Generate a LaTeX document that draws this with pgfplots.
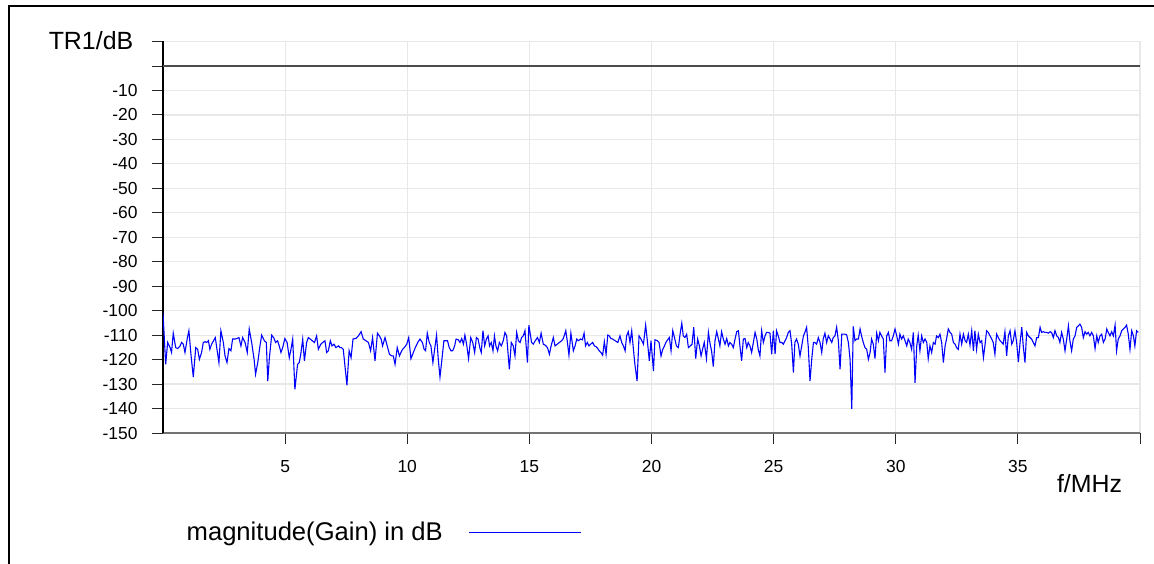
\documentclass[border=0pt]{standalone}
\usepackage{pgfplots}
\pgfplotsset{compat=1.18}
\usepackage{pgfplotstable}
\usepackage{fontspec}
\setmainfont{Liberation Sans}
\pgfplotstableread{
f g
0.00 -101
0.11 -121.9
0.19 -113
0.29 -115.1
0.35 -117.1
0.42 -109.2
0.52 -115.1
0.60 -115.5
0.70 -114.4
0.76 -113
0.83 -113.7
0.90 -117.1
1.00 -111
1.06 -108.2
1.15 -118.5
1.24 -127.1
1.34 -115.1
1.42 -115.8
1.49 -119.9
1.58 -117.1
1.65 -113
1.72 -112.7
1.79 -113
1.86 -112.3
1.92 -115.8
1.99 -113.7
2.07 -112.3
2.14 -111
2.21 -115.8
2.29 -121.2
2.37 -108.2
2.47 -113
2.54 -118.5
2.62 -121.2
2.70 -115.5
2.78 -116.4
2.85 -111.6
2.95 -111.6
3.02 -111.4
3.11 -111
3.19 -114.4
3.26 -111
3.36 -113
3.45 -117.1
3.53 -107.5
3.63 -113
3.73 -119.9
3.79 -126
3.88 -121.2
3.97 -114.4
4.04 -110
4.15 -112.3
4.23 -113
4.29 -128.8
4.35 -119.9
4.45 -110
4.53 -111
4.61 -113
4.69 -112.3
4.76 -114.4
4.83 -117.1
4.90 -115.1
4.99 -111.4
5.08 -113
5.17 -119.2
5.24 -115.8
5.31 -111.6
5.40 -132.2
5.51 -121.9
5.58 -121.2
5.65 -117.1
5.72 -111.6
5.79 -120.5
5.88 -113
5.95 -111
6.03 -111.6
6.11 -112.3
6.20 -113
6.29 -110.3
6.36 -115.8
6.46 -113.7
6.54 -113
6.63 -112.3
6.70 -117.1
6.77 -116.4
6.85 -112.3
6.92 -114.4
7.00 -113.7
7.08 -115.1
7.18 -114.4
7.25 -115.1
7.31 -115.1
7.38 -115.8
7.45 -122.6
7.53 -130.5
7.62 -116.4
7.70 -119.2
7.78 -111.6
7.86 -111.4
7.90 -111.4
8.00 -110.3
8.11 -108.6
8.20 -111.6
8.31 -112.3
8.41 -113
8.50 -116.4
8.58 -111
8.68 -120.5
8.78 -109.2
8.86 -110.3
8.93 -111.6
8.99 -114.4
9.09 -111
9.18 -114.4
9.27 -117.8
9.36 -118.5
9.43 -118.5
9.50 -121.9
9.59 -115.1
9.68 -118.5
9.74 -117.1
9.81 -115.8
9.88 -115.1
9.98 -113.7
10.06 -111
10.15 -119.6
10.25 -117.1
10.33 -115.1
10.43 -113
10.52 -111.6
10.62 -113
10.69 -115.8
10.75 -116.4
10.82 -109.2
10.90 -113
10.97 -114.4
11.05 -121.2
11.14 -114.4
11.20 -110
11.27 -119.9
11.34 -127.1
11.42 -119.9
11.50 -112.3
11.59 -112.3
11.65 -112.3
11.72 -115.1
11.79 -116.4
11.86 -116.4
11.94 -114.4
12.00 -111.6
12.09 -111.9
12.16 -113
12.23 -111.4
12.30 -113.7
12.36 -110
12.43 -113.7
12.51 -119.6
12.60 -111
12.68 -113
12.76 -117.1
12.83 -111
12.90 -111.6
12.97 -115.1
13.03 -117.1
13.10 -108.2
13.17 -114.4
13.24 -111.6
13.31 -110.3
13.37 -114.4
13.44 -113
13.51 -116.4
13.57 -110.3
13.63 -114.4
13.70 -116.4
13.77 -113
13.85 -114.4
13.93 -112.3
14.00 -108.9
14.07 -110.3
14.18 -124
14.26 -113
14.34 -114.4
14.41 -118.5
14.48 -108.9
14.55 -112.3
14.62 -113
14.68 -111
14.75 -110.3
14.82 -108.2
14.92 -121.2
14.98 -105.9
15.09 -113
15.16 -113.7
15.24 -112.3
15.33 -111
15.41 -113
15.48 -109.2
15.57 -113.7
15.65 -114.1
15.74 -115.1
15.82 -117.8
15.89 -114.4
15.98 -111
16.05 -114.4
16.14 -113.7
16.23 -113
16.32 -112.3
16.39 -111.4
16.49 -108.2
16.55 -112.3
16.62 -118.2
16.70 -109.2
16.80 -116.4
16.87 -114.4
16.94 -111.6
17.00 -112.3
17.10 -111.6
17.17 -111.9
17.24 -109.2
17.30 -114.4
17.37 -113
17.44 -114.4
17.51 -113.7
17.59 -113
17.66 -114.4
17.73 -114.7
17.80 -115.5
17.86 -116.4
17.93 -117.1
18.00 -118.2
18.07 -112.7
18.14 -117.8
18.21 -110
18.27 -110.3
18.34 -111.4
18.41 -111.6
18.51 -112.3
18.62 -113
18.71 -110.3
18.78 -113
18.85 -114.4
18.92 -116.4
18.98 -110.3
19.05 -108.6
19.12 -113
19.19 -108.2
19.26 -115.8
19.32 -121.9
19.41 -128.8
19.49 -110.3
19.57 -111.6
19.67 -113.7
19.76 -105.9
19.83 -112.3
19.91 -120.5
19.98 -112.3
20.08 -124.7
20.14 -111.9
20.24 -112.3
20.31 -113
20.39 -118.5
20.46 -115.8
20.53 -114.4
20.59 -113
20.66 -111.9
20.73 -111
20.80 -116.4
20.87 -108.2
20.94 -111
21.02 -114.4
21.10 -115.1
21.17 -109.6
21.24 -105.1
21.30 -110.3
21.37 -111
21.44 -109.6
21.51 -115.1
21.59 -114.4
21.66 -113.7
21.73 -106.8
21.81 -119.6
21.89 -111.6
21.96 -114.4
22.03 -118.5
22.09 -115.8
22.16 -113
22.25 -119.6
22.33 -108.9
22.40 -113.7
22.46 -116.4
22.53 -122.9
22.60 -112.3
22.67 -108.6
22.74 -111.6
22.80 -114.4
22.87 -108.6
22.94 -111.6
23.01 -113.7
23.08 -111.4
23.15 -114.4
23.21 -113
23.28 -113.7
23.35 -115.1
23.42 -111.6
23.49 -108.6
23.56 -108.2
23.62 -114.4
23.69 -120.5
23.76 -111.6
23.83 -111.4
23.90 -115.1
23.96 -113
24.03 -114.4
24.10 -117.1
24.17 -113
24.24 -108.9
24.31 -111.6
24.37 -115.8
24.44 -118.5
24.51 -108.2
24.58 -113
24.65 -110.3
24.71 -108.9
24.78 -108.9
24.85 -109.2
24.92 -117.8
24.99 -108.2
25.06 -117.8
25.12 -108.2
25.19 -110.3
25.26 -113
25.33 -113
25.40 -113.7
25.47 -112.3
25.53 -111
25.60 -108.9
25.67 -108.2
25.74 -113.7
25.81 -125.3
25.87 -113
25.94 -111.6
26.01 -113.7
26.08 -118.5
26.15 -114.4
26.22 -110.3
26.28 -108.9
26.35 -106.8
26.42 -115.1
26.49 -128.8
26.56 -119.9
26.63 -113
26.69 -113
26.76 -113.7
26.83 -111
26.90 -113
26.97 -117.1
27.03 -111.6
27.10 -109.2
27.17 -113
27.24 -110.3
27.31 -111.6
27.38 -113
27.44 -111
27.51 -110.3
27.58 -106.8
27.65 -112.3
27.72 -124
27.79 -109.6
27.85 -109.6
27.92 -109.6
27.99 -109.9
28.06 -113
28.13 -119.9
28.20 -140.1
28.26 -106.4
28.33 -112.3
28.40 -111.6
28.47 -111.6
28.54 -107.5
28.60 -110.3
28.67 -113
28.74 -115.1
28.81 -115.8
28.88 -119.9
28.95 -117.1
29.01 -111.6
29.08 -113.7
29.15 -119.6
29.22 -109.2
29.29 -112.3
29.35 -108.9
29.42 -110.3
29.49 -111.6
29.56 -125.3
29.63 -110.3
29.70 -108.9
29.76 -112.3
29.83 -112.3
29.90 -110.3
29.97 -107.5
30.04 -110.3
30.11 -113.7
30.17 -109.6
30.24 -111.6
30.31 -110.3
30.38 -112.3
30.45 -114.4
30.51 -111.6
30.58 -113
30.65 -115.8
30.72 -108.9
30.79 -129.5
30.86 -114.4
30.92 -110
30.99 -116.4
31.06 -110.3
31.13 -113
31.20 -111.6
31.27 -113
31.33 -119.6
31.40 -114.4
31.47 -117.1
31.54 -113
31.61 -113.7
31.67 -110.3
31.74 -111
31.81 -109.6
31.88 -113
31.95 -121.2
32.02 -114.4
32.08 -111.6
32.15 -107.5
32.22 -108.9
32.29 -109.6
32.36 -113
32.43 -113.7
32.49 -115.1
32.56 -115.8
32.63 -109.6
32.70 -113.7
32.77 -109.6
32.84 -112.3
32.90 -113
32.97 -109.6
33.04 -114.1
33.11 -108.2
33.18 -116.4
33.24 -108.2
33.31 -115.8
33.38 -109.6
33.45 -113
33.52 -112.3
33.59 -119.2
33.65 -114.4
33.72 -108.2
33.79 -108.9
33.86 -110.3
33.93 -111.6
33.99 -113
34.06 -117.8
34.13 -109.6
34.20 -111
34.27 -112.3
34.34 -113
34.40 -113.7
34.47 -108.6
34.54 -118.5
34.61 -110.3
34.68 -108.2
34.75 -113.7
34.81 -112.3
34.88 -108.2
34.95 -113
35.02 -121
35.09 -113
35.16 -106.8
35.22 -114.4
35.29 -121.2
35.36 -108.9
35.43 -110.3
35.50 -111
35.56 -111.6
35.63 -113
35.70 -114.4
35.77 -111
35.84 -111
35.91 -106.8
35.97 -108.9
36.04 -108.6
36.11 -108.9
36.18 -108.9
36.25 -109.2
36.32 -108.6
36.38 -108.9
36.45 -111
36.52 -108.2
36.59 -110.3
36.66 -111
36.72 -113
36.79 -108.9
36.86 -111.6
36.93 -116.4
37.00 -111.6
37.07 -106.2
37.13 -112.3
37.20 -116.4
37.27 -111.6
37.34 -110.3
37.41 -106.8
37.48 -106.2
37.54 -105.5
37.61 -106.8
37.68 -111
37.75 -108.6
37.82 -109.6
37.88 -108.9
37.95 -110.3
38.02 -108.9
38.09 -110.3
38.16 -115.5
38.23 -110.3
38.29 -113
38.36 -110.3
38.43 -109.6
38.50 -113
38.57 -111.6
38.64 -107.5
38.70 -108.9
38.77 -110.3
38.84 -108.6
38.91 -110.3
38.98 -105.9
39.04 -116.4
39.11 -111.6
39.18 -110.3
39.25 -108.2
39.32 -107.5
39.39 -106.8
39.45 -105.9
39.52 -109.6
39.59 -115.8
39.66 -108.2
39.73 -110.3
39.79 -114.4
39.86 -108.2
39.93 -108.9
}\gaindata

\begin{document}
\begin{tikzpicture}
\useasboundingbox (0,0) rectangle (1154bp,564bp);
\draw[line width=2bp] (8.5bp,0) -- (8.5bp,557.5bp) -- (1154bp,557.5bp);
\begin{axis}[
  at={(163bp,131bp)}, anchor=south west,
  scale only axis, width=977bp, height=391.5bp,
  xmin=0, xmax=40, ymin=-150, ymax=10,
  axis x line*=bottom, axis y line*=left,
  x axis line style={draw=black!55, line width=1.4bp},
  y axis line style={draw=black, line width=1.1bp},
  tick align=outside, major tick length=11bp,
  tick style={draw=black!85, line width=0.9bp},
  grid=major,
  major grid style={draw=black!9, line width=1.2bp},
  xtick={5,10,...,40},
  xticklabels={5,10,15,20,25,30,35,{}},
  ytick={-150,-140,...,10},
  yticklabels={-150,-140,-130,-120,-110,-100,-90,-80,-70,-60,-50,-40,-30,-20,-10,{},{}},
  tick label style={font=\fontsize{17.5}{20}\selectfont},
  xticklabel style={yshift=-13bp},
  yticklabel style={xshift=-11bp},
  legend plot pos=right,
  legend image code/.code={\draw[#1] (0bp,0bp) -- (112bp,0bp);},
  legend style={draw=none, fill=none, at={(0.022,-0.253)}, anchor=west,
    font=\fontsize{25.7}{28}\selectfont, inner sep=0pt,
    /tikz/every odd column/.append style={column sep=24bp}},
]
\addplot[blue, line width=1.1bp] table[x=f, y=g] {\gaindata};
\addlegendentry{magnitude(Gain) in dB}
\addplot[black!70, line width=1.3bp, forget plot] coordinates {(0,0) (40,0)};
\end{axis}
\node[anchor=base, font=\fontsize{25}{28}\selectfont] at (91bp,514.7bp) {TR1/dB};
\node[anchor=base, font=\fontsize{25}{28}\selectfont] at (1089.5bp,71bp) {f/MHz};
\end{tikzpicture}
\end{document}
